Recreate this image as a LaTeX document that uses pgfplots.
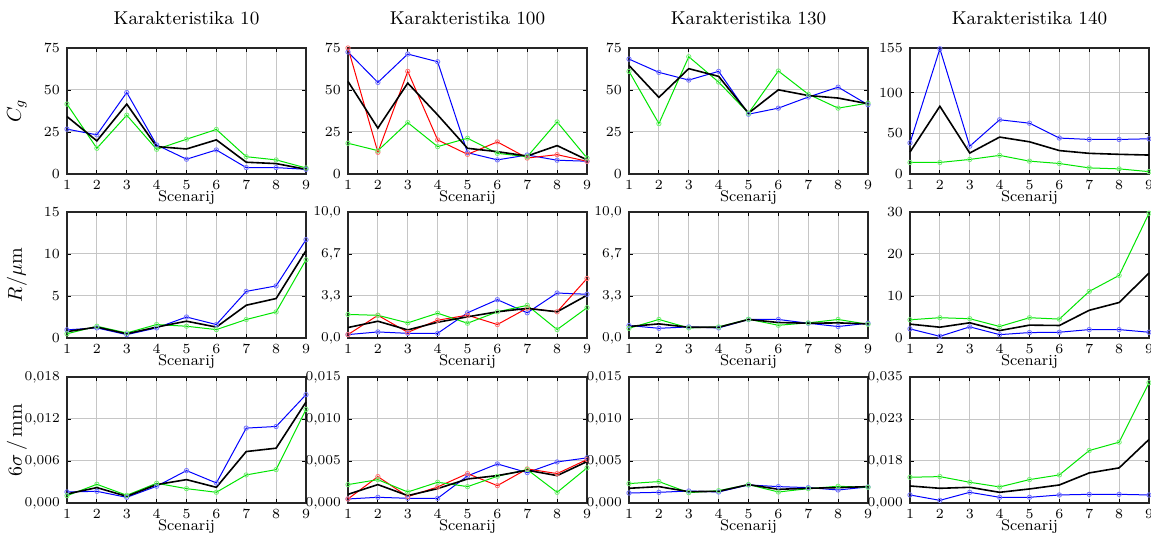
\documentclass[border=0pt]{standalone}
\usepackage{pgfplots}
\pgfplotsset{compat=1.18}
\definecolor{mblue}{rgb}{0,0,1}
\definecolor{mgreen}{rgb}{0,0.9,0}
\definecolor{mred}{rgb}{1,0,0}
\pgfplotsset{
  myax/.style={
    scale only axis, width=119.5pt, height=63pt,
    xmin=1, xmax=9, xtick={1,...,9}, ymin=0,
    grid=major, major grid style={gray!45, line width=0.5pt},
    axis line style={black!85, line width=0.6pt},
    tick style={black, line width=0.4pt}, major tick length=2pt,
    tick label style={font=\fontsize{6.8}{7}\selectfont},
    xticklabel style={yshift=0.5pt},
    scaled y ticks=false,
    title style={font=\fontsize{9.3}{10}\selectfont, at={(axis description cs:0.5,1.14)}, anchor=center},
    xlabel style={font=\fontsize{7.7}{8}\selectfont, at={(axis description cs:0.5,-0.185)}, anchor=center},
    ylabel style={font=\fontsize{10}{11}\selectfont, at={(axis description cs:-0.21,0.5)}, anchor=center},
    xlabel={Scenarij},
    clip=false,
  },
  sb/.style={mblue, line width=0.5pt, mark=o, mark size=1.1pt, mark options={mblue!55, solid, line width=0.4pt}},
  sg/.style={mgreen, line width=0.5pt, mark=o, mark size=1.1pt, mark options={mgreen!55, solid, line width=0.4pt}},
  sr/.style={mred, line width=0.5pt, mark=o, mark size=1.1pt, mark options={mred!55, solid, line width=0.4pt}},
  sk/.style={black, line width=0.8pt, mark=none},
}
\begin{document}
\begin{tikzpicture}
\useasboundingbox (0,0) rectangle (575.5pt,-266.5pt);
% ---------------- Row 1 ----------------
\begin{axis}[myax, at={(33.5pt,-87pt)}, anchor=south west, title={Karakteristika 10},
  ymax=75, ytick={0,25,50,75}, ylabel={$C_g$}]
\addplot[sb] coordinates {(1,26.7)(2,23.3)(3,48.5)(4,17.3)(5,8.8)(6,14.3)(7,3.8)(8,3.8)(9,2.8)};
\addplot[sg] coordinates {(1,41.6)(2,15.3)(3,35.0)(4,14.7)(5,20.7)(6,26.5)(7,10.3)(8,8.4)(9,3.6)};
\addplot[sk] coordinates {(1,34.2)(2,19.7)(3,41.6)(4,16.3)(5,14.9)(6,20.3)(7,7.0)(8,6.2)(9,2.8)};
\end{axis}
\begin{axis}[myax, at={(174pt,-87pt)}, anchor=south west, title={Karakteristika 100},
  ymax=75, ytick={0,25,50,75}]
\addplot[sb] coordinates {(1,72.6)(2,54.5)(3,71.4)(4,66.8)(5,12.7)(6,8.4)(7,11.3)(8,8.2)(9,7.6)};
\addplot[sr] coordinates {(1,75.0)(2,12.9)(3,61.1)(4,20.3)(5,11.7)(6,19.1)(7,9.5)(8,11.5)(9,7.6)};
\addplot[sg] coordinates {(1,18.3)(2,13.9)(3,30.6)(4,16.3)(5,21.3)(6,12.3)(7,10.3)(8,31.0)(9,9.5)};
\addplot[sk] coordinates {(1,55.1)(2,27.3)(3,54.1)(4,35.2)(5,15.3)(6,13.3)(7,10.7)(8,16.9)(9,8.4)};
\end{axis}
\begin{axis}[myax, at={(314.5pt,-87pt)}, anchor=south west, title={Karakteristika 130},
  ymax=75, ytick={0,25,50,75}]
\addplot[sb] coordinates {(1,68.4)(2,60.5)(3,55.9)(4,61.1)(5,35.6)(6,39.2)(7,45.8)(8,51.7)(9,41.2)};
\addplot[sg] coordinates {(1,61.1)(2,30.0)(3,69.8)(4,54.7)(5,36.2)(6,61.3)(7,47.5)(8,39.2)(9,42.2)};
\addplot[sk] coordinates {(1,64.6)(2,45.6)(3,62.7)(4,58.1)(5,36.2)(6,50.1)(7,46.7)(8,45.2)(9,41.8)};
\end{axis}
\begin{axis}[myax, at={(455pt,-87pt)}, anchor=south west, title={Karakteristika 140},
  ymax=155, ytick={0,50,100,155}]
\addplot[sb] coordinates {(1,38.3)(2,154)(3,34.2)(4,66.7)(5,62.5)(6,44.2)(7,42.5)(8,42.5)(9,43.3)};
\addplot[sg] coordinates {(1,14.2)(2,14.2)(3,17.9)(4,22.9)(5,15.8)(6,12.9)(7,7.5)(8,6.3)(9,2.9)};
\addplot[sk] coordinates {(1,27.1)(2,83.3)(3,25.8)(4,45.4)(5,39.6)(6,28.8)(7,25.4)(8,24.2)(9,23.3)};
\end{axis}
% ---------------- Row 2 ----------------
\begin{axis}[myax, at={(33.5pt,-169pt)}, anchor=south west,
  ymax=15, ytick={0,5,10,15}, ylabel={$R/\mu$m}]
\addplot[sb] coordinates {(1,0.97)(2,1.2)(3,0.4)(4,1.2)(5,2.5)(6,1.6)(7,5.55)(8,6.2)(9,11.7)};
\addplot[sg] coordinates {(1,0.5)(2,1.4)(3,0.6)(4,1.6)(5,1.4)(6,1.0)(7,2.2)(8,3.1)(9,9.3)};
\addplot[sk] coordinates {(1,0.76)(2,1.3)(3,0.5)(4,1.3)(5,2.0)(6,1.3)(7,3.9)(8,4.7)(9,10.4)};
\end{axis}
\begin{axis}[myax, at={(174pt,-169pt)}, anchor=south west,
  ymax=10, ytick={0,3.3333,6.6667,10}, yticklabels={{0,0},{3,3},{6,7},{10,0}}]
\addplot[sb] coordinates {(1,0.27)(2,0.48)(3,0.37)(4,0.37)(5,2.0)(6,3.04)(7,2.0)(8,3.57)(9,3.47)};
\addplot[sr] coordinates {(1,0.27)(2,1.8)(3,0.45)(4,1.41)(5,1.81)(6,1.07)(7,2.37)(8,2.08)(9,4.72)};
\addplot[sg] coordinates {(1,1.87)(2,1.8)(3,1.2)(4,1.97)(5,1.17)(6,2.08)(7,2.59)(8,0.67)(9,2.4)};
\addplot[sk] coordinates {(1,0.83)(2,1.33)(3,0.64)(4,1.25)(5,1.68)(6,2.08)(7,2.35)(8,2.08)(9,3.39)};
\end{axis}
\begin{axis}[myax, at={(314.5pt,-169pt)}, anchor=south west,
  ymax=10, ytick={0,3.3333,6.6667,10}, yticklabels={{0,0},{3,3},{6,7},{10,0}}]
\addplot[sb] coordinates {(1,0.99)(2,0.77)(3,0.88)(4,0.8)(5,1.47)(6,1.47)(7,1.17)(8,0.91)(9,1.17)};
\addplot[sg] coordinates {(1,0.77)(2,1.47)(3,0.8)(4,0.88)(5,1.49)(6,1.01)(7,1.2)(8,1.47)(9,1.09)};
\addplot[sk] coordinates {(1,0.91)(2,1.12)(3,0.85)(4,0.85)(5,1.47)(6,1.23)(7,1.17)(8,1.2)(9,1.12)};
\end{axis}
\begin{axis}[myax, at={(455pt,-169pt)}, anchor=south west,
  ymax=30, ytick={0,10,20,30}]
\addplot[sb] coordinates {(1,2.17)(2,0.4)(3,2.65)(4,0.8)(5,1.29)(6,1.37)(7,2.0)(8,2.0)(9,1.37)};
\addplot[sg] coordinates {(1,4.34)(2,4.83)(3,4.59)(4,2.74)(5,4.83)(6,4.5)(7,11.1)(8,14.9)(9,29.7)};
\addplot[sk] coordinates {(1,3.3)(2,2.57)(3,3.62)(4,1.77)(5,3.06)(6,2.98)(7,6.6)(8,8.45)(9,15.45)};
\end{axis}
% ---------------- Row 3 ----------------
\begin{axis}[myax, at={(33.5pt,-251.5pt)}, anchor=south west,
  ymax=0.018, ytick={0,0.006,0.012,0.018}, yticklabels={{0,000},{0,006},{0,012},{0,018}},
  ylabel={$6\sigma\,/\,$mm}]
\addplot[sb] coordinates {(1,0.00158)(2,0.00167)(3,0.00081)(4,0.00239)(5,0.00463)(6,0.00286)(7,0.0107)(8,0.01093)(9,0.01547)};
\addplot[sg] coordinates {(1,0.00105)(2,0.00267)(3,0.0011)(4,0.00282)(5,0.00205)(6,0.00153)(7,0.00401)(8,0.00477)(9,0.01337)};
\addplot[sk] coordinates {(1,0.00129)(2,0.0022)(3,0.00095)(4,0.00263)(5,0.00334)(6,0.00224)(7,0.00735)(8,0.00783)(9,0.01442)};
\end{axis}
\begin{axis}[myax, at={(174pt,-251.5pt)}, anchor=south west,
  ymax=0.015, ytick={0,0.005,0.010,0.015}, yticklabels={{0,000},{0,005},{0,010},{0,015}}]
\addplot[sb] coordinates {(1,0.00048)(2,0.00068)(3,0.00056)(4,0.00056)(5,0.00322)(6,0.00465)(7,0.00362)(8,0.00489)(9,0.00537)};
\addplot[sr] coordinates {(1,0.00048)(2,0.00314)(3,0.00076)(4,0.00191)(5,0.0035)(6,0.00207)(7,0.00406)(8,0.0035)(9,0.00517)};
\addplot[sg] coordinates {(1,0.00219)(2,0.00278)(3,0.00131)(4,0.00247)(5,0.00195)(6,0.00318)(7,0.00398)(8,0.00127)(9,0.00418)};
\addplot[sk] coordinates {(1,0.00103)(2,0.00219)(3,0.00088)(4,0.00171)(5,0.00286)(6,0.00326)(7,0.0039)(8,0.00326)(9,0.00493)};
\end{axis}
\begin{axis}[myax, at={(314.5pt,-251.5pt)}, anchor=south west,
  ymax=0.015, ytick={0,0.005,0.010,0.015}, yticklabels={{0,000},{0,005},{0,010},{0,015}}]
\addplot[sb] coordinates {(1,0.00119)(2,0.00127)(3,0.00143)(4,0.00131)(5,0.00215)(6,0.00195)(7,0.00183)(8,0.00155)(9,0.00191)};
\addplot[sg] coordinates {(1,0.00231)(2,0.00255)(3,0.00123)(4,0.00147)(5,0.00219)(6,0.00131)(7,0.00171)(8,0.00199)(9,0.00187)};
\addplot[sk] coordinates {(1,0.00175)(2,0.00195)(3,0.00135)(4,0.00139)(5,0.00219)(6,0.00163)(7,0.00175)(8,0.00183)(9,0.00195)};
\end{axis}
\begin{axis}[myax, at={(455pt,-251.5pt)}, anchor=south west,
  ymax=0.035, ytick={0,0.011667,0.023333,0.035}, yticklabels={{0,000},{0,018},{0,023},{0,035}}]
\addplot[sb] coordinates {(1,0.00223)(2,0.00074)(3,0.00297)(4,0.00158)(5,0.00158)(6,0.00223)(7,0.00241)(8,0.00241)(9,0.00223)};
\addplot[sg] coordinates {(1,0.00715)(2,0.00733)(3,0.00576)(4,0.00446)(5,0.0065)(6,0.0078)(7,0.01458)(8,0.0169)(9,0.03342)};
\addplot[sk] coordinates {(1,0.00473)(2,0.00408)(3,0.00436)(4,0.00297)(5,0.0039)(6,0.00501)(7,0.00836)(8,0.00975)(9,0.01764)};
\end{axis}
\end{tikzpicture}
\end{document}
